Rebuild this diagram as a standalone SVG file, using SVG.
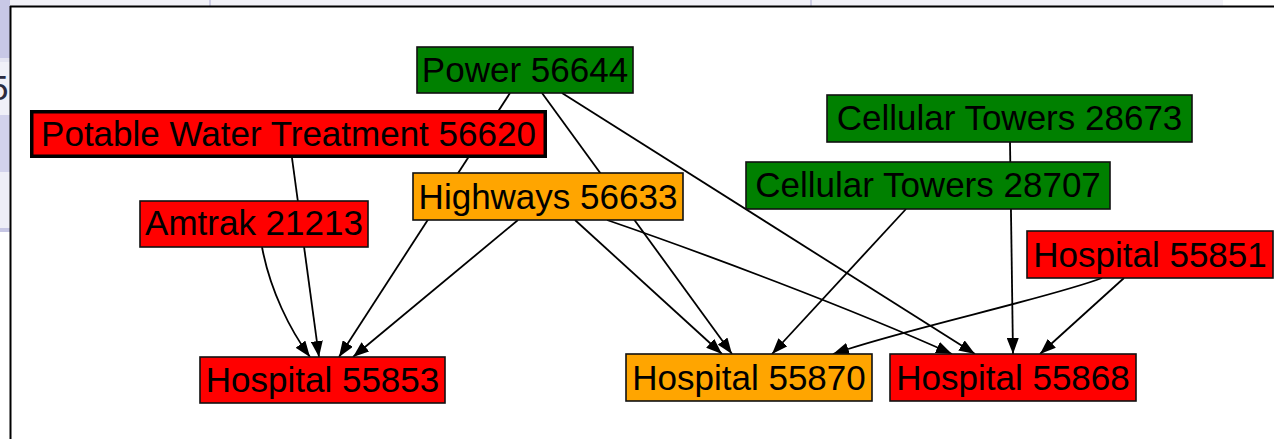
<svg xmlns="http://www.w3.org/2000/svg" width="1274" height="439" viewBox="0 0 1274 439">
<defs>
<style>
.n rect{stroke:#111;stroke-width:1.6}
.n text{font-family:"Liberation Sans",Arial,sans-serif;font-size:35px;fill:#000;text-anchor:middle}
.g rect{fill:#008000}
.r rect{fill:#ff0000}
.o rect{fill:#ffa500}
.e path{fill:none;stroke:#000;stroke-width:1.8;marker-end:url(#ah)}
</style>
<marker id="ah" markerUnits="userSpaceOnUse" markerWidth="16" markerHeight="12" refX="16" refY="6" orient="auto">
<path d="M0,0 L16,6 L0,12 z" fill="#000"/>
</marker>
</defs>
<!-- surrounding page background -->
<rect x="0" y="0" width="1274" height="439" fill="#ffffff"/>
<rect x="0" y="0" width="1223" height="6" fill="#f2f2f8"/>
<line x1="210" y1="0" x2="210" y2="6" stroke="#cfcfe6" stroke-width="2"/>
<line x1="811" y1="0" x2="811" y2="6" stroke="#cfcfe6" stroke-width="2"/>
<rect x="0" y="0" width="10" height="58" fill="#c8c8e6"/>
<rect x="0" y="58" width="10" height="4" fill="#e4e4f2"/>
<rect x="0" y="62" width="10" height="53" fill="#f0f0f8"/>
<rect x="0" y="115" width="10" height="57" fill="#d2d2ec"/>
<rect x="0" y="172" width="10" height="56" fill="#eeeef7"/>
<rect x="0" y="228" width="10" height="4" fill="#c6c6e4"/>
<text x="-11" y="100" font-family="Liberation Sans,Arial,sans-serif" font-size="35" fill="#2a2a40">5</text>
<rect x="10" y="6" width="1264" height="433" fill="#ffffff"/>
<line x1="10" y1="6.5" x2="1274" y2="6.5" stroke="#000" stroke-width="2"/>
<line x1="10.5" y1="6" x2="10.5" y2="439" stroke="#000" stroke-width="2"/>

<g id="connectors" class="e">
<path d="M510,93 L339,357"/>
<path d="M542,93 L732,354"/>
<path d="M562,93 L975,354"/>
<path d="M292,158 L319,357"/>
<path d="M262,247 C270,290 290,330 310,357"/>
<path d="M518,220 L353,357"/>
<path d="M575,220 L722,354"/>
<path d="M607,220 C700,252 850,308 952,354"/>
<path d="M1010,142 L1013,354"/>
<path d="M906,209 L772,354"/>
<path d="M1102,278 C1050,298 900,330 833,354"/>
<path d="M1124,278 L1040,354"/>
</g>

<g id="power-56644" class="n g"><rect x="417" y="47" width="216" height="46"/><text x="525" y="82">Power 56644</text></g>
<g id="potable-water-56620" class="n r"><rect x="31.75" y="111.75" width="513.5" height="44.5" style="stroke:#000;stroke-width:3.5"/><text x="288.5" y="146">Potable Water Treatment 56620</text></g>
<g id="highways-56633" class="n o"><rect x="413" y="173" width="270" height="47"/><text x="548" y="209">Highways 56633</text></g>
<g id="amtrak-21213" class="n r"><rect x="140" y="201" width="228" height="46"/><text x="254" y="235">Amtrak 21213</text></g>
<g id="cellular-28673" class="n g"><rect x="827" y="95" width="365" height="47"/><text x="1009.5" y="130">Cellular Towers 28673</text></g>
<g id="cellular-28707" class="n g"><rect x="746" y="162" width="364" height="47"/><text x="928" y="197">Cellular Towers 28707</text></g>
<g id="hospital-55851" class="n r"><rect x="1027" y="231" width="246" height="47"/><text x="1150" y="267">Hospital 55851</text></g>
<g id="hospital-55853" class="n r"><rect x="200" y="357" width="245" height="46"/><text x="322.5" y="392">Hospital 55853</text></g>
<g id="hospital-55870" class="n o"><rect x="626" y="354" width="246" height="47"/><text x="749" y="390">Hospital 55870</text></g>
<g id="hospital-55868" class="n r"><rect x="890" y="354" width="246" height="47"/><text x="1013" y="390">Hospital 55868</text></g>
</svg>
